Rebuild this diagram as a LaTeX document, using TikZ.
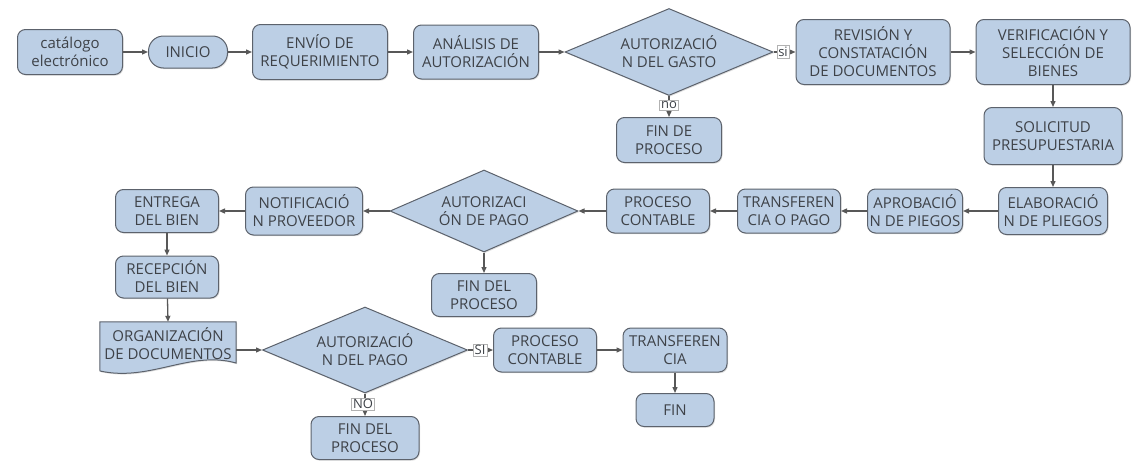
\documentclass[tikz,border=0pt]{standalone}
\usepackage{fontspec}
\setmainfont{Open Sans}
\usetikzlibrary{shapes.geometric,arrows.meta,shadows}
\definecolor{boxfill}{RGB}{188,207,229}
\definecolor{boxline}{RGB}{92,98,108}
\definecolor{txt}{RGB}{62,66,72}
\definecolor{arrowc}{RGB}{88,88,88}
\begin{document}
\begin{tikzpicture}[x=1pt,y=-1pt,
  base/.style={draw=boxline, line width=1pt, fill=boxfill, text=txt,
    font=\fontsize{15}{18}\selectfont, align=center, inner sep=0pt,
    drop shadow={shadow xshift=1pt, shadow yshift=-1.2pt, opacity=0.25}},
  box/.style={base, rounded corners=8pt},
  pill/.style={base, rounded corners=15pt},
  decision/.style={base, diamond, shape aspect=2.4},
  docbox/.style={text=txt, font=\fontsize{15}{18}\selectfont, align=center, inner sep=0pt},
  lbl/.style={draw=black!30, line width=0.4pt, fill=white, text=txt,
    font=\fontsize{13}{14}\selectfont, inner sep=1.5pt},
  arr/.style={draw=arrowc, line width=1.3pt, -{Triangle[length=6pt,width=5pt]}}
]
\useasboundingbox (0,0) rectangle (1146,463);

% first row
\node[box, minimum width=105, minimum height=45] (cat) at (70,52) {catálogo\\electrónico};
\node[pill, minimum width=79, minimum height=32] (ini) at (188,52) {INICIO};
\node[box, minimum width=135, minimum height=55] (env) at (320,52) {ENVÍO DE\\REQUERIMIENTO};
\node[box, minimum width=125, minimum height=54] (ana) at (476,52) {ANÁLISIS DE\\AUTORIZACIÓN};
\node[decision, minimum width=208, minimum height=87] (d1) at (669,52) {AUTORIZACIÓ\\N DEL GASTO};
\node[box, minimum width=105, minimum height=45] (fin1) at (669,140) {FIN DE\\PROCESO};
\node[box, minimum width=154, minimum height=65] (rev) at (873,52) {REVISIÓN Y\\CONSTATACIÓN\\DE DOCUMENTOS};
\node[box, minimum width=154, minimum height=65] (ver) at (1053,52) {VERIFICACIÓN Y\\SELECCIÓN DE\\BIENES};
\node[box, minimum width=138, minimum height=57] (sol) at (1053,136) {SOLICITUD\\PRESUPUESTARIA};

% second row
\node[box, minimum width=109, minimum height=47] (ela) at (1053,211) {ELABORACIÓ\\N DE PLIEGOS};
\node[box, minimum width=95, minimum height=44] (apr) at (915,211) {APROBACIÓ\\N DE PIEGOS};
\node[box, minimum width=103, minimum height=44] (tra) at (789,211) {TRANSFEREN\\CIA O PAGO};
\node[box, minimum width=103, minimum height=44] (pc1) at (658,211) {PROCESO\\CONTABLE};
\node[decision, minimum width=188, minimum height=82] (d2) at (484,211) {AUTORIZACI\\ÓN DE PAGO};
\node[box, minimum width=105, minimum height=43] (fin2) at (484,295) {FIN DEL\\PROCESO};
\node[box, minimum width=117, minimum height=48] (not) at (304,211) {NOTIFICACIÓ\\N PROVEEDOR};
\node[box, minimum width=103, minimum height=43] (ent) at (167,211) {ENTREGA\\DEL BIEN};
\node[box, minimum width=103, minimum height=42] (rec) at (167,277) {RECEPCIÓN\\DEL BIEN};

% third row: document shape with a wavy lower edge
\node[docbox, minimum width=136, minimum height=44] (org) at (168,344) {ORGANIZACIÓN\\DE DOCUMENTOS};
\path[draw=boxline, line width=1pt, fill=boxfill,
  drop shadow={shadow xshift=1pt, shadow yshift=-1.2pt, opacity=0.25}]
  (org.north west) -- (org.north east) -- (236,363)
  .. controls (190,350) and (150,382) .. (100,371) -- cycle;
\node[docbox, minimum width=136, minimum height=44] at (org) {ORGANIZACIÓN\\DE DOCUMENTOS};
\node[decision, minimum width=205, minimum height=86] (d3) at (365,350) {AUTORIZACIÓ\\N DEL PAGO};
\node[box, minimum width=108, minimum height=43] (fin3) at (365,438) {FIN DEL\\PROCESO};
\node[box, minimum width=103, minimum height=44] (pc2) at (545,350) {PROCESO\\CONTABLE};
\node[box, minimum width=104, minimum height=44] (tr2) at (675,350) {TRANSFEREN\\CIA};
\node[box, minimum width=78, minimum height=33] (fin4) at (675,410) {FIN};

% connectors
\draw[arr] (cat) -- (ini);
\draw[arr] (ini) -- (env);
\draw[arr] (env) -- (ana);
\draw[arr] (ana) -- (d1);
\draw[arr] (d1.east) -- (rev.west);
\draw[arr] (d1.south) -- (fin1.north);
\draw[arr] (rev) -- (ver);
\draw[arr] (ver) -- (sol);
\draw[arr] (sol) -- (ela);
\draw[arr] (ela) -- (apr);
\draw[arr] (apr) -- (tra);
\draw[arr] (tra) -- (pc1);
\draw[arr] (pc1) -- (d2.east);
\draw[arr] (d2.west) -- (not);
\draw[arr] (d2.south) -- (fin2.north);
\draw[arr] (not) -- (ent);
\draw[arr] (ent) -- (rec);
\draw[arr] (rec) -- (org.north);
\draw[arr] (org.east |- d3.west) -- (d3.west);
\draw[arr] (d3.east) -- (pc2.west);
\draw[arr] (d3.south) -- (fin3.north);
\draw[arr] (pc2) -- (tr2);
\draw[arr] (tr2) -- (fin4);

% branch labels
\node[lbl] (ls1) at (783,52) {si};
\node[lbl] (ln1) at (669,105) {no};
\node[lbl] (ls3) at (480,350) {SI};
\node[lbl] (ln3) at (363,404) {NO};
\end{tikzpicture}
\end{document}
